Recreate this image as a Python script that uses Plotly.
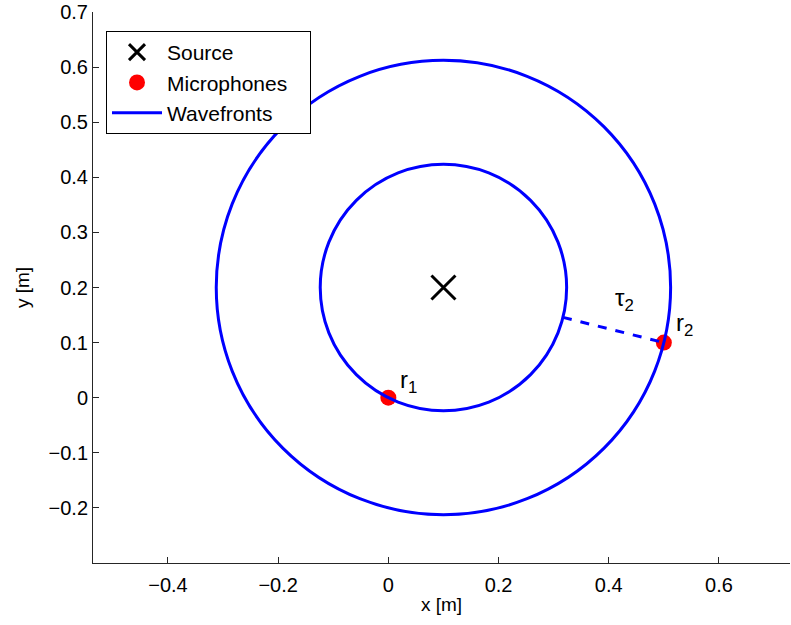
import numpy as np
import plotly.graph_objects as go

# ---- data ----
source_x = [0.1]
source_y = [0.2]
mic_x = [0.0, 0.5]
mic_y = [0.0, 0.1]
mic_labels = ["r<sub>1</sub>", "r<sub>2</sub>"]
tau_label = "τ<sub>2</sub>"
legend_names = ["Source", "Microphones", "Wavefronts"]
x_tickvals = [-0.4, -0.2, 0, 0.2, 0.4, 0.6]
x_ticktext = ["\u22120.4", "\u22120.2", "0", "0.2", "0.4", "0.6"]
y_tickvals = [-0.2, -0.1, 0, 0.1, 0.2, 0.3, 0.4, 0.5, 0.6, 0.7]
y_ticktext = ["\u22120.2", "\u22120.1", "0", "0.1", "0.2", "0.3", "0.4", "0.5", "0.6", "0.7"]

# geometry derived from the positions
sx, sy = source_x[0], source_y[0]
radii = [float(np.hypot(mx - sx, my - sy)) for mx, my in zip(mic_x, mic_y)]
# dashed segment: from mic 2 back to the inner wavefront
dx, dy = mic_x[1] - sx, mic_y[1] - sy
d = np.hypot(dx, dy)
seg_x = [sx + radii[0] * dx / d, mic_x[1]]
seg_y = [sy + radii[0] * dy / d, mic_y[1]]

BLUE = "#0000FF"
FONT = "Liberation Sans, Arial, Helvetica, sans-serif"
PAD = "\u00a0\u00a0\u00a0"  # invisible padding to widen the legend box

fig = go.Figure()
fig.add_trace(go.Scatter(
    x=source_x, y=source_y, mode="markers", name=legend_names[0],
    marker=dict(symbol="x-thin", size=24, line=dict(width=3, color="black"), color="black"),
))
fig.add_trace(go.Scatter(
    x=mic_x, y=mic_y, mode="markers", name=legend_names[1] + PAD,
    marker=dict(symbol="circle", size=16, color="#FF0000", line=dict(width=0)),
))
fig.add_trace(go.Scatter(
    x=[None], y=[None], mode="lines", name=legend_names[2],
    line=dict(color=BLUE, width=3),
))
fig.add_trace(go.Scatter(
    x=seg_x, y=seg_y, mode="lines", showlegend=False,
    line=dict(color=BLUE, width=3, dash="dash"),
))

for r in radii:
    fig.add_shape(type="circle", xref="x", yref="y",
                  x0=sx - r, x1=sx + r, y0=sy - r, y1=sy + r,
                  line=dict(color=BLUE, width=3), layer="above")

ann_pos = [(0.036, 0.03), (0.537, 0.132)]
for (ax_, ay_), t in zip(ann_pos, mic_labels):
    fig.add_annotation(x=ax_, y=ay_, text=t, showarrow=False,
                       font=dict(size=24, color="black", family=FONT))
fig.add_annotation(x=0.428, y=0.178, text=tau_label, showarrow=False,
                   font=dict(size=24, color="black", family=FONT))

L, R, T, B = 93, 1, 12, 62
W, H = 791, 625
pw = W - L - R
ph = H - T - B
scale = ph / 1.0
x0 = -0.536
x1 = x0 + pw / scale

axis_common = dict(
    showline=True, linecolor="#262626", linewidth=1, mirror=False,
    ticks="inside", ticklen=6, tickcolor="#262626", tickwidth=1,
    showgrid=False, zeroline=False, automargin=False,
    tickfont=dict(size=20, color="black", family=FONT),
)
fig.update_xaxes(range=[x0, x1], tickvals=x_tickvals, ticktext=x_ticktext,
                 ticklabelstandoff=4,
                 title=dict(text="x [m]", font=dict(size=19, color="black", family=FONT), standoff=2),
                 **axis_common)
fig.update_yaxes(range=[-0.3, 0.7], tickvals=y_tickvals, ticktext=y_ticktext,
                 title=dict(text="y [m]", font=dict(size=19, color="black", family=FONT), standoff=13),
                 **axis_common)

fig.update_layout(
    width=W, height=H,
    margin=dict(l=L, r=R, t=T, b=B, autoexpand=False),
    plot_bgcolor="white", paper_bgcolor="white",
    font=dict(family=FONT, color="black"),
    legend=dict(
        x=(106 - L) / pw, y=(563 - 31) / ph, xanchor="left", yanchor="top",
        bgcolor="white", bordercolor="black", borderwidth=1,
        font=dict(size=21, color="black", family=FONT),
        itemwidth=50,
    ),
)

fig.write_html("out.html",
               config={"displayModeBar": False},
               post_script="document.body.style.margin='0';document.body.style.overflow='hidden';")
